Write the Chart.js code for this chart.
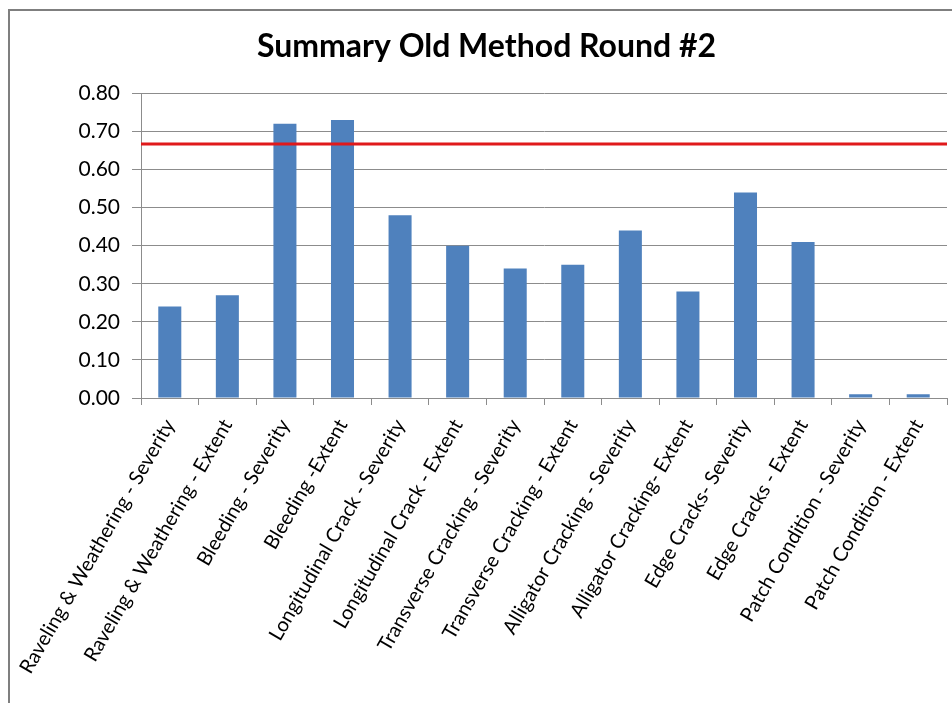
<!DOCTYPE html>
<html>
<head>
<meta charset="utf-8">
<script src="https://cdn.jsdelivr.net/npm/chart.js@4"></script>
<style>
  html, body { margin: 0; padding: 0; background: #fff; }
  #frame {
    position: absolute; left: 8px; top: 9px; right: -4px; bottom: -4px;
    border-left: 2px solid #7f7f7f; border-top: 2px solid #7f7f7f;
  }
  #wrap { position: absolute; left: 0; top: 0; width: 952px; height: 703px; }
</style>
</head>
<body>
<div id="frame"></div>
<div id="wrap"><canvas id="summaryChart" width="952" height="703"></canvas></div>
<script>
const categories = [
  "Raveling & Weathering - Severity",
  "Raveling & Weathering - Extent",
  "Bleeding - Severity",
  "Bleeding -Extent",
  "Longitudinal Crack - Severity",
  "Longitudinal Crack - Extent",
  "Transverse Cracking - Severity",
  "Transverse Cracking - Extent",
  "Alligator Cracking - Severity",
  "Alligator Cracking- Extent",
  "Edge Cracks- Severity",
  "Edge Cracks - Extent",
  "Patch Condition - Severity",
  "Patch Condition - Extent",
];
const scores = [0.24, 0.27, 0.72, 0.73, 0.48, 0.40, 0.34, 0.35, 0.44, 0.28, 0.54, 0.41, 0.01, 0.01];
const threshold = 0.667;
const yTicks = [0, 0.1, 0.2, 0.3, 0.4, 0.5, 0.6, 0.7, 0.8];

const FONT = "Lato, 'Open Sans', sans-serif";

// horizontal reference line across the whole plot area
const thresholdLine = {
  id: "thresholdLine",
  afterDatasetsDraw(chart) {
    const { ctx, chartArea, scales } = chart;
    const y = scales.y.getPixelForValue(threshold);
    ctx.save();
    ctx.strokeStyle = "#e0191b";
    ctx.lineWidth = 3;
    ctx.beginPath();
    ctx.moveTo(chartArea.left, y);
    ctx.lineTo(chartArea.right, y);
    ctx.stroke();
    ctx.restore();
  },
};

new Chart(document.getElementById("summaryChart"), {
  type: "bar",
  data: {
    labels: categories,
    datasets: [
      {
        data: scores,
        backgroundColor: "#4f81bd",
        categoryPercentage: 1,
        barPercentage: 0.4,
      },
    ],
  },
  options: {
    responsive: false,
    animation: false,
    layout: { padding: { left: 26, right: 5, top: 0, bottom: 0 } },
    plugins: {
      legend: { display: false },
      tooltip: { enabled: false },
      title: {
        display: true,
        text: "Summary Old Method Round #2",
        color: "#000",
        font: { family: FONT, size: 32, weight: "bold", lineHeight: 1.2 },
        padding: { top: 27, bottom: 28 },
      },
    },
    scales: {
      x: {
        afterFit: (scale) => { scale.height = 305; },
        grid: {
          offset: true,
          drawOnChartArea: false,
          drawTicks: true,
          tickLength: 7,
          color: "#8c8c8c",
        },
        border: { color: "#8c8c8c", width: 1 },
        ticks: {
          autoSkip: false,
          maxRotation: 60,
          minRotation: 60,
          padding: 10,
          color: "#000",
          font: { family: FONT, size: 20 },
        },
      },
      y: {
        min: 0,
        max: 0.8,
        afterFit: (scale) => { scale.width = 115; },
        afterBuildTicks: (scale) => { scale.ticks = yTicks.map((v) => ({ value: v })); },
        grid: { color: "#8c8c8c", tickLength: 9, drawTicks: true },
        border: { color: "#8c8c8c", width: 1 },
        ticks: {
          padding: 12,
          color: "#000",
          font: { family: FONT, size: 21 },
          callback: (v) => Number(v).toFixed(2),
        },
      },
    },
  },
  plugins: [thresholdLine],
});
</script>
</body>
</html>
